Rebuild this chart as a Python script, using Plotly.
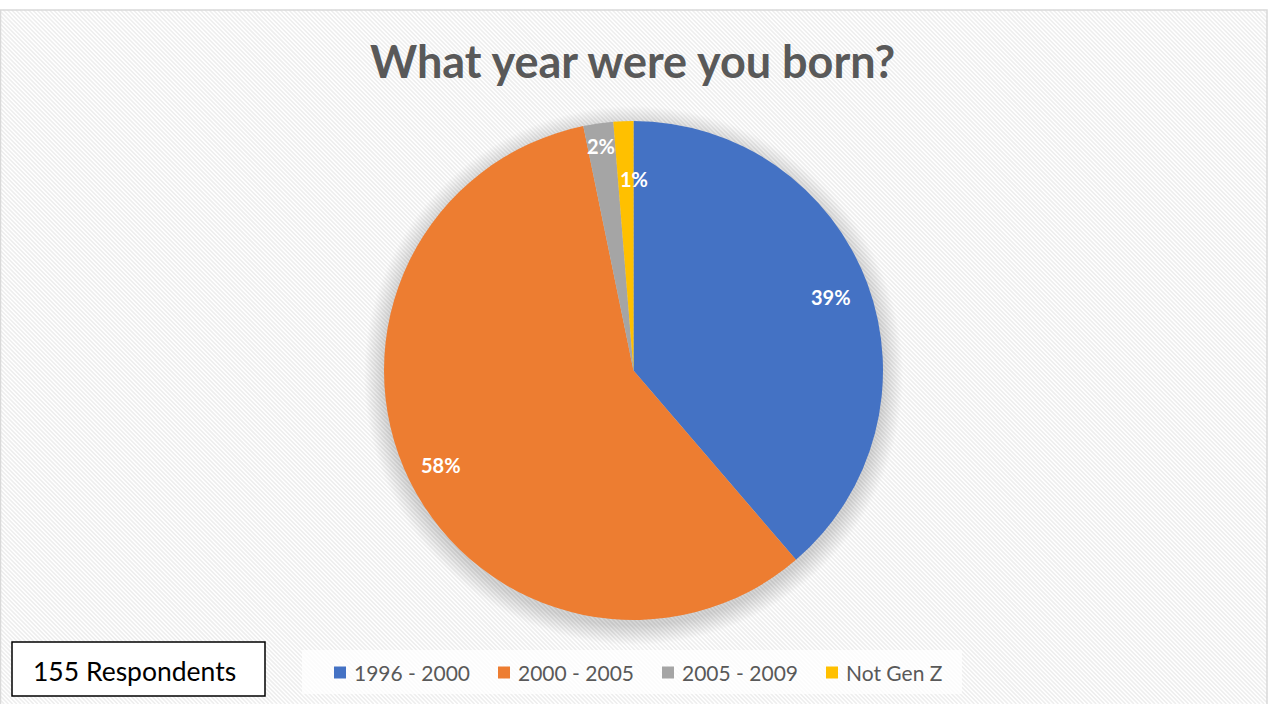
import math
import plotly.graph_objects as go

# Survey data
categories = ["1996 - 2000", "2000 - 2005", "2005 - 2009", "Not Gen Z"]
respondents = [60, 90, 3, 2]
colors = ["#4472C4", "#ED7D31", "#A5A5A5", "#FFC000"]
title_text = "What year were you born?"
total_text = "155 Respondents"

W, H = 1276, 704

def px(x):
    return x / W

def py(y):
    return 1 - y / H

# Pie geometry (pixels)
cx, cy, r = 633.5, 370.5, 249.5

shapes = []

# Chart area: hatched background with a light border
x_l, x_r, y_t, y_b = 0, 1267, 10, 704
period = 4.2
segs = []
c = -(y_b - y_t)
while c < (x_r - x_l):
    ya = y_t
    xa = x_l + c
    if xa < x_l:
        ya = y_t + (x_l - xa)
        xa = x_l
    yb_ = y_b
    xb = x_l + c + (y_b - y_t)
    if xb > x_r:
        yb_ = y_b - (xb - x_r)
        xb = x_r
    if ya < yb_:
        segs.append(f"M{px(xa):.5f},{py(ya):.5f}L{px(xb):.5f},{py(yb_):.5f}")
    c += period
shapes.append(dict(type="path", xref="paper", yref="paper", path="".join(segs),
                   line=dict(color="#eeeeee", width=1.6), layer="below"))
shapes.append(dict(type="rect", xref="paper", yref="paper",
                   x0=px(0.5), x1=px(1267), y0=py(10), y1=py(720),
                   line=dict(color="#d9d9d9", width=1.5), fillcolor="rgba(0,0,0,0)",
                   layer="below"))

# Soft shadow behind the pie
for k in range(20, 0, -1):
    rr = r + k
    shapes.append(dict(type="circle", xref="paper", yref="paper",
                       x0=px(cx - rr), x1=px(cx + rr),
                       y0=py(cy + 5 + rr), y1=py(cy + 5 - rr),
                       fillcolor="rgba(0,0,0,0.009)", line=dict(width=0),
                       layer="below"))

# Legend backdrop
shapes.append(dict(type="rect", xref="paper", yref="paper",
                   x0=px(302), x1=px(962), y0=py(650), y1=py(694),
                   fillcolor="rgba(255,255,255,0.75)", line=dict(width=0),
                   layer="below"))

# Respondents box
shapes.append(dict(type="rect", xref="paper", yref="paper",
                   x0=px(12), x1=px(265), y0=py(642), y1=py(696),
                   fillcolor="white", line=dict(color="black", width=1.5),
                   layer="above"))

fig = go.Figure(go.Pie(
    labels=categories,
    values=respondents,
    marker=dict(colors=colors, line=dict(width=0)),
    sort=False,
    direction="clockwise",
    rotation=0,
    textinfo="none",
    hoverinfo="label+percent",
    domain=dict(x=[px(cx - r), px(cx + r)], y=[py(cy + r), py(cy - r)]),
    showlegend=False,
))

annotations = []

# Percentage labels placed along each slice's mid angle
label_radius = [0.845, 0.86, 0.91, 0.77]
label_xshift = [0, 0, 0, 8]
tot = sum(respondents)
cum = 0
for v, f, xs in zip(respondents, label_radius, label_xshift):
    mid = 2 * math.pi * (cum + v / 2) / tot
    cum += v
    lx = cx + f * r * math.sin(mid)
    ly = cy - f * r * math.cos(mid)
    annotations.append(dict(
        x=px(lx), y=py(ly), xref="paper", yref="paper", showarrow=False,
        text=f"<b>{round(100 * v / tot)}%</b>", xshift=xs,
        font=dict(family="Lato", size=20, color="white"),
        xanchor="center", yanchor="middle"))

# Title
annotations.append(dict(
    x=px(632), y=py(61), xref="paper", yref="paper", showarrow=False,
    text=f"<b>{title_text}</b>", xanchor="center", yanchor="middle",
    font=dict(family="Lato", size=45, color="#595959")))

# Manual legend
leg_x0, leg_step = 334, 164
for i, (name, col) in enumerate(zip(categories, colors)):
    sx = leg_x0 + i * leg_step
    shapes.append(dict(type="rect", xref="paper", yref="paper",
                       x0=px(sx), x1=px(sx + 12), y0=py(678.5), y1=py(666.5),
                       fillcolor=col, line=dict(width=0), layer="above"))
    annotations.append(dict(
        x=px(sx + 18), y=py(672), xref="paper", yref="paper", showarrow=False,
        text=name, xanchor="left", yanchor="middle",
        font=dict(family="Lato", size=21, color="#595959")))

# Respondent count
annotations.append(dict(
    x=px(134), y=py(671), xref="paper", yref="paper", showarrow=False,
    text=total_text, xanchor="center", yanchor="middle",
    font=dict(family="Lato", size=26.5, color="black")))

fig.update_layout(
    width=W, height=H,
    margin=dict(l=0, r=0, t=0, b=0),
    paper_bgcolor="white",
    plot_bgcolor="white",
    shapes=shapes,
    annotations=annotations,
)

fig.write_html("out.html")
